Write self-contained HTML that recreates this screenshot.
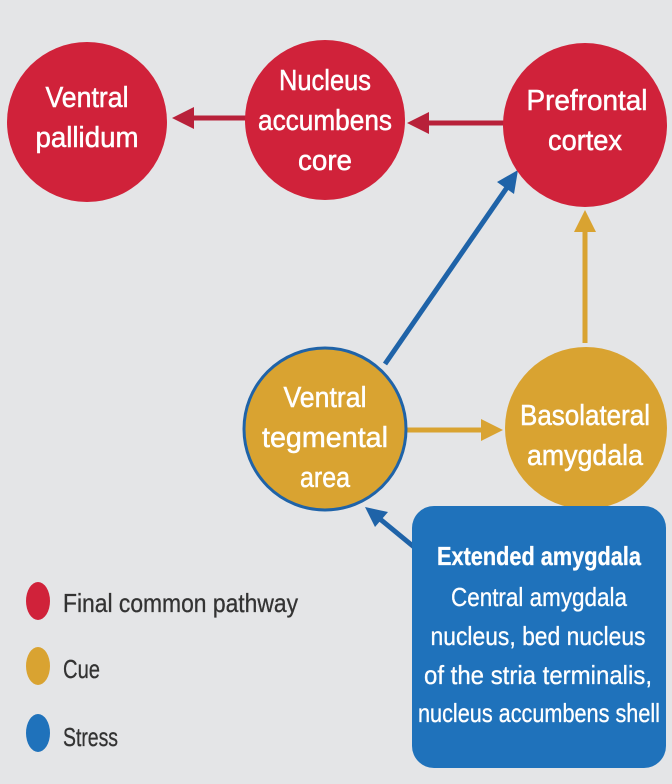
<!DOCTYPE html>
<html><head><meta charset="utf-8"><style>
html,body{margin:0;padding:0;background:#e4e5e7}
svg{display:block}
text{font-family:"Liberation Sans",sans-serif}
.w{fill:#fff;font-size:29px;text-anchor:middle;stroke:#fff;stroke-width:0.5}
.b{fill:#fff;font-size:26px;text-anchor:middle;stroke:#fff;stroke-width:0.3}
.l{fill:#333;font-size:26px;stroke:#333;stroke-width:0.3}
</style></head><body>
<svg width="672" height="784" viewBox="0 0 672 784" xmlns="http://www.w3.org/2000/svg">
<rect width="672" height="784" fill="#e4e5e7"/>
<g stroke-width="5" fill="none">
<line x1="247" y1="118" x2="190" y2="118" stroke="#b8213a"/>
<line x1="505" y1="123" x2="425" y2="123" stroke="#b8213a"/>
<line x1="385" y1="364" x2="508" y2="186" stroke="#1f63a8"/>
<line x1="585" y1="343" x2="585" y2="228" stroke="#d9a331"/>
<line x1="407" y1="430" x2="485" y2="430" stroke="#d9a331"/>
<line x1="414" y1="547" x2="380" y2="519" stroke="#1f63a8"/>
</g>
<polygon points="172,118 194,107 194,129" fill="#b8213a"/>
<polygon points="407,123 429,112 429,134" fill="#b8213a"/>
<polygon points="518,170 514,194 497,182" fill="#1f63a8"/>
<polygon points="585,210 574,232 596,232" fill="#d9a331"/>
<polygon points="503,430 481,419 481,441" fill="#d9a331"/>
<polygon points="365,507 388,512 375,527" fill="#1f63a8"/>
<circle cx="87" cy="122" r="80" fill="#d0223a"/>
<circle cx="325" cy="120" r="80" fill="#d0223a"/>
<circle cx="585" cy="125" r="82" fill="#d0223a"/>
<circle cx="325" cy="429" r="81" fill="#d9a331" stroke="#1f63a8" stroke-width="3"/>
<circle cx="586" cy="428" r="81" fill="#d9a331"/>
<rect x="412" y="506" width="254" height="262" rx="22" fill="#1f72bb"/>
<text class="w" x="87" y="107" textLength="83" lengthAdjust="spacingAndGlyphs">Ventral</text>
<text class="w" x="87" y="147" textLength="103" lengthAdjust="spacingAndGlyphs">pallidum</text>
<text class="w" x="325" y="90" textLength="92" lengthAdjust="spacingAndGlyphs">Nucleus</text>
<text class="w" x="325" y="130" textLength="134" lengthAdjust="spacingAndGlyphs">accumbens</text>
<text class="w" x="325" y="170" textLength="54" lengthAdjust="spacingAndGlyphs">core</text>
<text class="w" x="587" y="110" textLength="121" lengthAdjust="spacingAndGlyphs">Prefrontal</text>
<text class="w" x="585" y="150" textLength="74" lengthAdjust="spacingAndGlyphs">cortex</text>
<text class="w" x="325" y="407" textLength="83" lengthAdjust="spacingAndGlyphs">Ventral</text>
<text class="w" x="325" y="447" textLength="126" lengthAdjust="spacingAndGlyphs">tegmental</text>
<text class="w" x="325" y="487" textLength="50" lengthAdjust="spacingAndGlyphs">area</text>
<text class="w" x="585" y="425" textLength="130" lengthAdjust="spacingAndGlyphs">Basolateral</text>
<text class="w" x="585" y="465" textLength="116" lengthAdjust="spacingAndGlyphs">amygdala</text>
<text class="b" x="539" y="565" font-weight="bold" textLength="204" lengthAdjust="spacingAndGlyphs">Extended amygdala</text>
<text class="b" x="539" y="606" textLength="176" lengthAdjust="spacingAndGlyphs">Central amygdala</text>
<text class="b" x="538" y="645" textLength="215" lengthAdjust="spacingAndGlyphs">nucleus, bed nucleus</text>
<text class="b" x="538" y="684" textLength="228" lengthAdjust="spacingAndGlyphs">of the stria terminalis,</text>
<text class="b" x="539" y="722" textLength="242" lengthAdjust="spacingAndGlyphs">nucleus accumbens shell</text>
<ellipse cx="38" cy="601" rx="12" ry="19" fill="#d0223a"/>
<ellipse cx="38" cy="666" rx="12" ry="19" fill="#d9a331"/>
<ellipse cx="38" cy="733" rx="12" ry="19" fill="#1f72bb"/>
<text class="l" x="63" y="612" textLength="235" lengthAdjust="spacingAndGlyphs">Final common pathway</text>
<text class="l" x="63" y="678" textLength="37" lengthAdjust="spacingAndGlyphs">Cue</text>
<text class="l" x="63" y="746" textLength="55" lengthAdjust="spacingAndGlyphs">Stress</text>
</svg>
</body></html>
